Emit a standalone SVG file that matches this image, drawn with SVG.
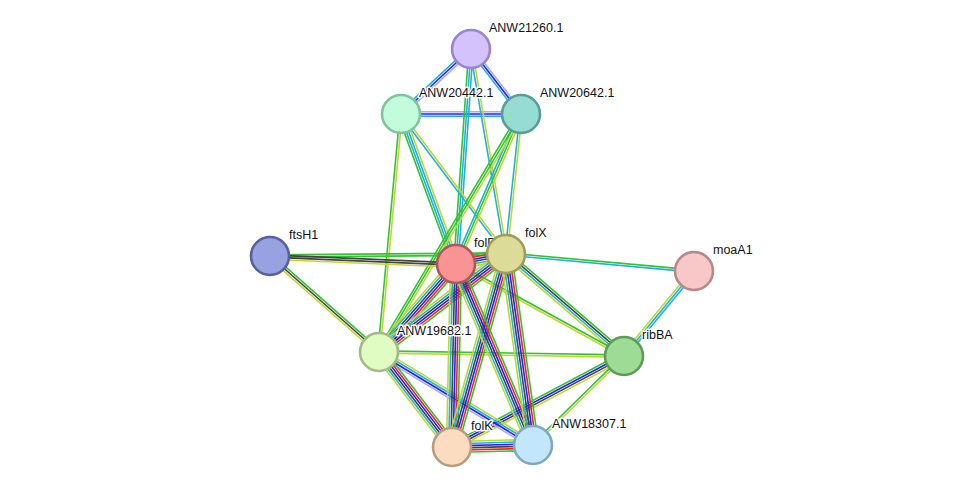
<svg xmlns="http://www.w3.org/2000/svg" width="975" height="493" viewBox="0 0 975 493">
<style>
line{stroke-width:1.6;fill:none}
.g{stroke:#33c433}.r{stroke:#f52222}.b{stroke:#2222f5}.k{stroke:#444}.c{stroke:#22b2d8}.y{stroke:#c2d632}.l{stroke:#aaaaf8}
.n{stroke-width:2.6}
text{font-family:"Liberation Sans",Arial,sans-serif;font-size:12.5px;fill:#111;stroke:#fff;stroke-width:3;paint-order:stroke;stroke-linejoin:round}
</style>
<rect width="975" height="493" fill="#fff"/>
<g id="edges">
<!-- A-B -->
<g transform="translate(471 49) rotate(137.1)"><line x2="95.5" y1="-2.2" y2="-2.2" class="l"/><line x2="95.5" class="b"/><line x2="95.5" y1="2.2" y2="2.2" class="c"/></g>
<!-- A-C -->
<g transform="translate(471 49) rotate(52.4)"><line x2="82" y1="-2.2" y2="-2.2" class="l"/><line x2="82" class="b"/><line x2="82" y1="2.2" y2="2.2" class="c"/></g>
<!-- B-C -->
<g transform="translate(401 114) rotate(0)"><line x2="120" y1="-2.2" y2="-2.2" class="l"/><line x2="120" class="b"/><line x2="120" y1="2.2" y2="2.2" class="c"/></g>
<!-- A-P -->
<g transform="translate(471 49) rotate(94)"><line x2="215.5" y1="-2.2" y2="-2.2" class="c"/><line x2="215.5" class="c"/><line x2="215.5" y1="2.2" y2="2.2" class="g"/></g>
<!-- A-X -->
<g transform="translate(471 49) rotate(80.3)"><line x2="208" y1="-1.1" y2="-1.1" class="y"/><line x2="208" y1="1.1" y2="1.1" class="c"/></g>
<!-- B-P -->
<g transform="translate(401 114) rotate(69.9)"><line x2="159.8" y1="-3.3" y2="-3.3" class="y"/><line x2="159.8" y1="-1.1" y2="-1.1" class="c"/><line x2="159.8" y1="1.1" y2="1.1" class="c"/><line x2="159.8" y1="3.3" y2="3.3" class="g"/></g>
<!-- B-X -->
<g transform="translate(401 114) rotate(53.1)"><line x2="175" y1="-1.1" y2="-1.1" class="y"/><line x2="175" y1="1.1" y2="1.1" class="c"/></g>
<!-- B-N -->
<g transform="translate(401 114) rotate(95.3)"><line x2="239" y1="-1.1" y2="-1.1" class="y"/><line x2="239" y1="1.1" y2="1.1" class="g"/></g>
<!-- C-P -->
<g transform="translate(521 114) rotate(113.4)"><line x2="163.5" y1="-2.2" y2="-2.2" class="y"/><line x2="163.5" class="g"/><line x2="163.5" y1="2.2" y2="2.2" class="c"/></g>
<!-- C-N -->
<g transform="translate(521 114) rotate(120.8)"><line x2="277.1" y1="-2.2" y2="-2.2" class="y"/><line x2="277.1" class="g"/><line x2="277.1" y1="2.2" y2="2.2" class="g"/></g>
<!-- C-X -->
<g transform="translate(521 114) rotate(96.1)"><line x2="140.8" y1="-1.1" y2="-1.1" class="y"/><line x2="140.8" y1="1.1" y2="1.1" class="c"/></g>
<!-- F-X -->
<g transform="translate(270 256) rotate(-0.49)"><line x2="236" y1="-1.1" y2="-1.1" class="g"/><line x2="236" y1="1.1" y2="1.1" class="g"/></g>
<!-- F-P -->
<g transform="translate(270 256) rotate(2.46)"><line x2="186.2" y1="-1.1" y2="-1.1" class="k"/><line x2="186.2" y1="1.1" y2="1.1" class="k"/><line x2="186.2" y1="3.3" y2="3.3" class="y"/></g>
<!-- F-N -->
<g transform="translate(270 256) rotate(41.4)"><line x2="145.2" y1="-2.2" y2="-2.2" class="g"/><line x2="145.2" class="k"/><line x2="145.2" y1="2.2" y2="2.2" class="y"/></g>
<!-- X-M -->
<g transform="translate(506 254) rotate(5.17)"><line x2="188.8" y1="-1.1" y2="-1.1" class="g"/><line x2="188.8" y1="1.1" y2="1.1" class="c"/></g>
<!-- M-R -->
<g transform="translate(694 271) rotate(129.5)"><line x2="110.1" y1="-2.2" y2="-2.2" class="c"/><line x2="110.1" class="c"/><line x2="110.1" y1="2.2" y2="2.2" class="y"/></g>
<!-- X-R -->
<g transform="translate(506 254) rotate(40.8)"><line x2="156" y1="-3.3" y2="-3.3" class="g"/><line x2="156" y1="-1.1" y2="-1.1" class="k"/><line x2="156" y1="1.1" y2="1.1" class="c"/><line x2="156" y1="3.3" y2="3.3" class="y"/></g>
<!-- P-R -->
<g transform="translate(456 264) rotate(28.7)"><line x2="191.5" y1="-1.1" y2="-1.1" class="g"/><line x2="191.5" y1="1.1" y2="1.1" class="y"/></g>
<!-- N-R -->
<g transform="translate(379 352) rotate(0.94)"><line x2="245" y1="-1.1" y2="-1.1" class="g"/><line x2="245" y1="1.1" y2="1.1" class="y"/></g>
<!-- S-R -->
<g transform="translate(533 445) rotate(-44.4)"><line x2="127.3" y1="-1.1" y2="-1.1" class="g"/><line x2="127.3" y1="1.1" y2="1.1" class="y"/></g>
<!-- K-R -->
<g transform="translate(452 447) rotate(-27.9)"><line x2="194.6" y1="-3.3" y2="-3.3" class="g"/><line x2="194.6" y1="-1.1" y2="-1.1" class="b"/><line x2="194.6" y1="1.1" y2="1.1" class="k"/><line x2="194.6" y1="3.3" y2="3.3" class="y"/></g>
<!-- N-S -->
<g transform="translate(379 352) rotate(31.1)"><line x2="179.9" y1="-3.3" y2="-3.3" class="y"/><line x2="179.9" y1="-1.1" y2="-1.1" class="c"/><line x2="179.9" y1="1.1" y2="1.1" class="b"/><line x2="179.9" y1="3.3" y2="3.3" class="l"/></g>
<!-- 6-line edges -->
<g transform="translate(456 264) rotate(-11.3)"><line x2="51" y1="-5.5" y2="-5.5" class="g"/><line x2="51" y1="-3.3" y2="-3.3" class="r"/><line x2="51" y1="-1.1" y2="-1.1" class="b"/><line x2="51" y1="1.1" y2="1.1" class="k"/><line x2="51" y1="3.3" y2="3.3" class="c"/><line x2="51" y1="5.5" y2="5.5" class="y"/></g>
<g transform="translate(456 264) rotate(131.2)"><line x2="116.9" y1="-5.5" y2="-5.5" class="g"/><line x2="116.9" y1="-3.3" y2="-3.3" class="r"/><line x2="116.9" y1="-1.1" y2="-1.1" class="b"/><line x2="116.9" y1="1.1" y2="1.1" class="k"/><line x2="116.9" y1="3.3" y2="3.3" class="c"/><line x2="116.9" y1="5.5" y2="5.5" class="y"/></g>
<g transform="translate(506 254) rotate(142.3)"><line x2="160.4" y1="-5.5" y2="-5.5" class="g"/><line x2="160.4" y1="-3.3" y2="-3.3" class="r"/><line x2="160.4" y1="-1.1" y2="-1.1" class="b"/><line x2="160.4" y1="1.1" y2="1.1" class="k"/><line x2="160.4" y1="3.3" y2="3.3" class="c"/><line x2="160.4" y1="5.5" y2="5.5" class="y"/></g>
<g transform="translate(456 264) rotate(91.25)"><line x2="183" y1="-5.5" y2="-5.5" class="g"/><line x2="183" y1="-3.3" y2="-3.3" class="r"/><line x2="183" y1="-1.1" y2="-1.1" class="b"/><line x2="183" y1="1.1" y2="1.1" class="k"/><line x2="183" y1="3.3" y2="3.3" class="c"/><line x2="183" y1="5.5" y2="5.5" class="y"/></g>
<g transform="translate(506 254) rotate(105.6)"><line x2="200.4" y1="-5.5" y2="-5.5" class="g"/><line x2="200.4" y1="-3.3" y2="-3.3" class="r"/><line x2="200.4" y1="-1.1" y2="-1.1" class="b"/><line x2="200.4" y1="1.1" y2="1.1" class="k"/><line x2="200.4" y1="3.3" y2="3.3" class="c"/><line x2="200.4" y1="5.5" y2="5.5" class="y"/></g>
<g transform="translate(456 264) rotate(67)"><line x2="196.7" y1="-5.5" y2="-5.5" class="g"/><line x2="196.7" y1="-3.3" y2="-3.3" class="r"/><line x2="196.7" y1="-1.1" y2="-1.1" class="b"/><line x2="196.7" y1="1.1" y2="1.1" class="k"/><line x2="196.7" y1="3.3" y2="3.3" class="c"/><line x2="196.7" y1="5.5" y2="5.5" class="y"/></g>
<g transform="translate(506 254) rotate(81.95)"><line x2="192.9" y1="-5.5" y2="-5.5" class="g"/><line x2="192.9" y1="-3.3" y2="-3.3" class="r"/><line x2="192.9" y1="-1.1" y2="-1.1" class="b"/><line x2="192.9" y1="1.1" y2="1.1" class="k"/><line x2="192.9" y1="3.3" y2="3.3" class="c"/><line x2="192.9" y1="5.5" y2="5.5" class="y"/></g>
<g transform="translate(379 352) rotate(52.5)"><line x2="119.8" y1="-5.5" y2="-5.5" class="g"/><line x2="119.8" y1="-3.3" y2="-3.3" class="r"/><line x2="119.8" y1="-1.1" y2="-1.1" class="b"/><line x2="119.8" y1="1.1" y2="1.1" class="k"/><line x2="119.8" y1="3.3" y2="3.3" class="c"/><line x2="119.8" y1="5.5" y2="5.5" class="y"/></g>
<g transform="translate(452 447) rotate(-1.41)"><line x2="81" y1="-5.5" y2="-5.5" class="y"/><line x2="81" y1="-3.3" y2="-3.3" class="c"/><line x2="81" y1="-1.1" y2="-1.1" class="b"/><line x2="81" y1="1.1" y2="1.1" class="k"/><line x2="81" y1="3.3" y2="3.3" class="r"/><line x2="81" y1="5.5" y2="5.5" class="g"/></g>
</g>
<g id="n-ANW21260"><circle cx="471" cy="49" r="19" class="n" fill="#d4c2fc" stroke="#9a84cc"/><text x="489" y="32">ANW21260.1</text></g>
<g id="n-ANW20442"><circle cx="401" cy="114" r="19" class="n" fill="#c2fcdc" stroke="#80c49c"/><text x="419" y="97">ANW20442.1</text></g>
<g id="n-ANW20642"><circle cx="521" cy="114" r="19" class="n" fill="#94dcd4" stroke="#5a9c96"/><text x="540" y="97">ANW20642.1</text></g>
<g id="n-ftsH1"><circle cx="270" cy="256" r="19" class="n" fill="#98a2e0" stroke="#5860a0"/><text x="289" y="239">ftsH1</text></g>
<g id="n-folP"><circle cx="456" cy="264" r="19" class="n" fill="#fa9494" stroke="#b05858"/><text x="474" y="247">folP</text></g>
<g id="n-folX"><circle cx="506" cy="254" r="19" class="n" fill="#dcdc98" stroke="#a09c5c"/><text x="525" y="237">folX</text></g>
<g id="n-moaA1"><circle cx="694" cy="271" r="19" class="n" fill="#f8c8c8" stroke="#b88888"/><text x="713" y="254">moaA1</text></g>
<g id="n-ANW19682"><circle cx="379" cy="352" r="19" class="n" fill="#e0fcc2" stroke="#a0bc84"/><text x="397" y="335">ANW19682.1</text></g>
<g id="n-ribBA"><circle cx="624" cy="356" r="19" class="n" fill="#9cdc94" stroke="#5c9c58"/><text x="642" y="339">ribBA</text></g>
<g id="n-folK"><circle cx="452" cy="447" r="19" class="n" fill="#fcdcc0" stroke="#b89c80"/><text x="471" y="430">folK</text></g>
<g id="n-ANW18307"><circle cx="533" cy="445" r="19" class="n" fill="#c2e6fc" stroke="#80a8c0"/><text x="552" y="428">ANW18307.1</text></g>
</svg>
